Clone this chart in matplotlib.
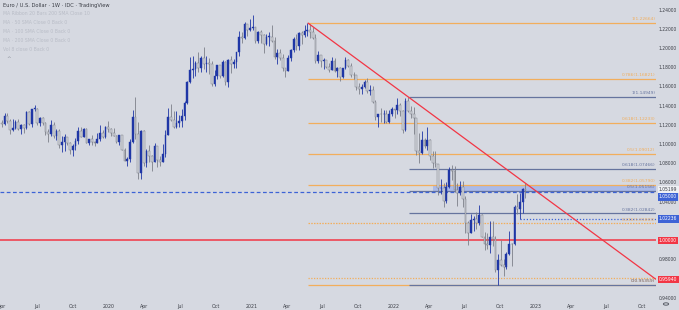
import matplotlib
matplotlib.use('Agg')
import matplotlib.pyplot as plt
import matplotlib.dates as mdates
from matplotlib.patches import Rectangle, Circle
import numpy as np
import pandas as pd

# ---------------- data (EUR/USD weekly) ----------------
start_week = '2019-04-01'
opens = [
    1.1218, 1.1216, 1.1297, 1.1246, 1.1150, 1.1170, 1.1233, 1.1157, 1.1205, 1.1169,
    1.1333, 1.1208, 1.1369, 1.1370, 1.1225, 1.1271, 1.1219, 1.1127, 1.1108, 1.1200,
    1.1091, 1.1143, 1.0990, 1.1028, 1.1073, 1.1016, 1.0940, 1.0980, 1.1040, 1.1143,
    1.1080, 1.1165, 1.1018, 1.1052, 1.1020, 1.1017, 1.1058, 1.1120, 1.1078, 1.1177,
    1.1160, 1.1121, 1.1091, 1.1025, 1.1093, 1.0943, 1.0831, 1.0846, 1.1025, 1.1284,
    1.1106, 1.0698, 1.1140, 1.0805, 1.0935, 1.0875, 1.0820, 1.0980, 1.0838, 1.0818,
    1.0902, 1.1100, 1.1290, 1.1255, 1.1178, 1.1220, 1.1245, 1.1300, 1.1428, 1.1655,
    1.1778, 1.1787, 1.1843, 1.1795, 1.1900, 1.1838, 1.1845, 1.1838, 1.1632, 1.1715,
    1.1826, 1.1717, 1.1860, 1.1646, 1.1875, 1.1833, 1.1857, 1.1960, 1.2120, 1.2110,
    1.2255, 1.2187, 1.2215, 1.2220, 1.2080, 1.2170, 1.2136, 1.2045, 1.2118, 1.2120,
    1.2075, 1.1915, 1.1950, 1.1905, 1.1795, 1.1763, 1.1900, 1.1984, 1.2097, 1.2020,
    1.2165, 1.2140, 1.2180, 1.2190, 1.2168, 1.2105, 1.1865, 1.1935, 1.1865, 1.1875,
    1.1810, 1.1775, 1.1870, 1.1760, 1.1795, 1.1700, 1.1795, 1.1880, 1.1813, 1.1728,
    1.1720, 1.1595, 1.1573, 1.1600, 1.1645, 1.1558, 1.1568, 1.1445, 1.1290, 1.1318,
    1.1315, 1.1315, 1.1238, 1.1320, 1.1365, 1.1360, 1.1410, 1.1345, 1.1150, 1.1450,
    1.1350, 1.1320, 1.1270, 1.0930, 1.0910, 1.1050, 1.0985, 1.1045, 1.0875, 1.0810,
    1.0795, 1.0545, 1.0550, 1.0410, 1.0560, 1.0730, 1.0720, 1.0520, 1.0495, 1.0555,
    1.0430, 1.0185, 1.0080, 1.0210, 1.0220, 1.0180, 1.0260, 1.0040, 0.9965, 0.9955,
    1.0040, 1.0015, 0.9690, 0.9800, 0.9740, 0.9720, 0.9860, 0.9965, 0.9960, 1.0350,
    1.0325, 1.0400, 1.0535,
]
highs = [
    1.1255, 1.1324, 1.1324, 1.1268, 1.1265, 1.1251, 1.1265, 1.1215, 1.1215, 1.1348,
    1.1348, 1.1373, 1.1412, 1.1384, 1.1286, 1.1282, 1.1230, 1.1158, 1.1250, 1.1230,
    1.1160, 1.1165, 1.1085, 1.1110, 1.1075, 1.1025, 1.0999, 1.1063, 1.1179, 1.1180,
    1.1175, 1.1176, 1.1058, 1.1097, 1.1040, 1.1116, 1.1200, 1.1148, 1.1188, 1.1239,
    1.1172, 1.1173, 1.1100, 1.1096, 1.1095, 1.0964, 1.0866, 1.1053, 1.1356, 1.1495,
    1.1237, 1.1147, 1.1147, 1.0952, 1.0990, 1.0891, 1.1019, 1.0983, 1.0875, 1.1008,
    1.1147, 1.1384, 1.1423, 1.1348, 1.1349, 1.1302, 1.1372, 1.1452, 1.1660, 1.1908,
    1.1916, 1.1866, 1.1966, 1.1925, 1.2011, 1.1917, 1.1901, 1.1872, 1.1771, 1.1831,
    1.1830, 1.1881, 1.1870, 1.1891, 1.1920, 1.1893, 1.1964, 1.2177, 1.2167, 1.2273,
    1.2251, 1.2310, 1.2349, 1.2222, 1.2183, 1.2190, 1.2150, 1.2150, 1.2170, 1.2243,
    1.2114, 1.1990, 1.1989, 1.1945, 1.1800, 1.1927, 1.1994, 1.2117, 1.2150, 1.2172,
    1.2183, 1.2245, 1.2266, 1.2254, 1.2218, 1.2145, 1.1975, 1.1935, 1.1895, 1.1880,
    1.1850, 1.1909, 1.1900, 1.1805, 1.1806, 1.1801, 1.1909, 1.1885, 1.1849, 1.1750,
    1.1725, 1.1640, 1.1624, 1.1669, 1.1692, 1.1616, 1.1610, 1.1464, 1.1320, 1.1383,
    1.1355, 1.1362, 1.1360, 1.1386, 1.1370, 1.1483, 1.1436, 1.1355, 1.1483, 1.1495,
    1.1395, 1.1390, 1.1275, 1.1121, 1.1137, 1.1070, 1.1185, 1.1054, 1.0934, 1.0936,
    1.0800, 1.0641, 1.0595, 1.0607, 1.0765, 1.0787, 1.0774, 1.0601, 1.0615, 1.0615,
    1.0463, 1.0200, 1.0278, 1.0254, 1.0294, 1.0368, 1.0275, 1.0090, 1.0079, 1.0198,
    1.0197, 1.0051, 0.9854, 0.9999, 0.9809, 0.9875, 1.0094, 0.9976, 1.0364, 1.0481,
    1.0497, 1.0545, 1.0595,
]
lows = [
    1.1183, 1.1205, 1.1226, 1.1111, 1.1135, 1.1160, 1.1152, 1.1107, 1.1116, 1.1160,
    1.1202, 1.1181, 1.1346, 1.1207, 1.1193, 1.1201, 1.1101, 1.1027, 1.1091, 1.1066,
    1.1051, 1.0965, 1.0926, 1.0927, 1.0990, 1.0905, 1.0879, 1.0942, 1.1002, 1.1073,
    1.1072, 1.1015, 1.0989, 1.0990, 1.0981, 1.1015, 1.1039, 1.1065, 1.1068, 1.1125,
    1.1085, 1.1086, 1.1019, 1.0992, 1.0940, 1.0827, 1.0778, 1.0812, 1.1010, 1.1055,
    1.0636, 1.0637, 1.0779, 1.0769, 1.0814, 1.0727, 1.0813, 1.0767, 1.0775, 1.0815,
    1.0870, 1.1095, 1.1240, 1.1168, 1.1168, 1.1186, 1.1186, 1.1253, 1.1424, 1.1637,
    1.1696, 1.1711, 1.1753, 1.1757, 1.1782, 1.1753, 1.1737, 1.1612, 1.1612, 1.1685,
    1.1689, 1.1701, 1.1622, 1.1603, 1.1746, 1.1801, 1.1800, 1.1925, 1.2059, 1.2100,
    1.2130, 1.2178, 1.2192, 1.2054, 1.2055, 1.2058, 1.1952, 1.2037, 1.2023, 1.2062,
    1.1894, 1.1835, 1.1874, 1.1762, 1.1704, 1.1760, 1.1870, 1.1960, 1.1986, 1.1986,
    1.2051, 1.2118, 1.2133, 1.2106, 1.2093, 1.1847, 1.1848, 1.1807, 1.1781, 1.1795,
    1.1751, 1.1770, 1.1752, 1.1705, 1.1664, 1.1695, 1.1790, 1.1802, 1.1700, 1.1684,
    1.1563, 1.1529, 1.1523, 1.1588, 1.1535, 1.1513, 1.1432, 1.1250, 1.1186, 1.1234,
    1.1226, 1.1222, 1.1222, 1.1300, 1.1272, 1.1315, 1.1300, 1.1121, 1.1140, 1.1340,
    1.1280, 1.1106, 1.0885, 1.0806, 1.0900, 1.0961, 1.0945, 1.0837, 1.0757, 1.0760,
    1.0471, 1.0483, 1.0350, 1.0389, 1.0550, 1.0627, 1.0507, 1.0359, 1.0469, 1.0350,
    1.0072, 0.9952, 1.0080, 1.0097, 1.0123, 1.0158, 1.0033, 0.9901, 0.9910, 0.9864,
    0.9945, 0.9668, 0.9536, 0.9735, 0.9632, 0.9705, 0.9851, 0.9730, 0.9950, 1.0272,
    1.0223, 1.0290, 1.0443,
]
closes = [
    1.1216, 1.1297, 1.1246, 1.1150, 1.1170, 1.1233, 1.1157, 1.1205, 1.1169, 1.1333,
    1.1208, 1.1369, 1.1370, 1.1225, 1.1271, 1.1219, 1.1127, 1.1108, 1.1200, 1.1091,
    1.1143, 1.0990, 1.1028, 1.1073, 1.1016, 1.0940, 1.0980, 1.1040, 1.1143, 1.1080,
    1.1165, 1.1018, 1.1052, 1.1020, 1.1017, 1.1058, 1.1120, 1.1078, 1.1177, 1.1160,
    1.1121, 1.1091, 1.1025, 1.1093, 1.0943, 1.0831, 1.0846, 1.1025, 1.1284, 1.1106,
    1.0698, 1.1140, 1.0805, 1.0935, 1.0875, 1.0820, 1.0980, 1.0838, 1.0818, 1.0902,
    1.1100, 1.1290, 1.1255, 1.1178, 1.1220, 1.1245, 1.1300, 1.1428, 1.1655, 1.1778,
    1.1787, 1.1843, 1.1795, 1.1900, 1.1838, 1.1845, 1.1838, 1.1632, 1.1715, 1.1826,
    1.1717, 1.1860, 1.1646, 1.1875, 1.1833, 1.1857, 1.1960, 1.2120, 1.2110, 1.2255,
    1.2187, 1.2215, 1.2220, 1.2080, 1.2170, 1.2136, 1.2045, 1.2118, 1.2120, 1.2075,
    1.1915, 1.1950, 1.1905, 1.1795, 1.1763, 1.1900, 1.1984, 1.2097, 1.2020, 1.2165,
    1.2140, 1.2180, 1.2190, 1.2168, 1.2105, 1.1865, 1.1935, 1.1865, 1.1875, 1.1810,
    1.1775, 1.1870, 1.1760, 1.1795, 1.1700, 1.1795, 1.1880, 1.1813, 1.1728, 1.1720,
    1.1595, 1.1573, 1.1600, 1.1645, 1.1558, 1.1568, 1.1445, 1.1290, 1.1318, 1.1315,
    1.1315, 1.1238, 1.1320, 1.1370, 1.1360, 1.1410, 1.1345, 1.1150, 1.1450, 1.1350,
    1.1320, 1.1270, 1.0930, 1.0910, 1.1050, 1.0985, 1.1045, 1.0875, 1.0810, 1.0795,
    1.0545, 1.0550, 1.0410, 1.0560, 1.0730, 1.0720, 1.0520, 1.0495, 1.0555, 1.0430,
    1.0185, 1.0080, 1.0210, 1.0220, 1.0180, 1.0260, 1.0040, 0.9965, 0.9955, 1.0040,
    1.0015, 0.9690, 0.9800, 0.9740, 0.9720, 0.9860, 0.9965, 0.9960, 1.0350, 1.0325,
    1.0400, 1.0535, 1.0520,
]

# Fibonacci retracements (level, price)
fib_orange_start = '2021-05-25'
fib_orange_levels = ['1', '0.786', '0.618', '0.5', '0.382', '0.236', '0']
fib_orange_prices = [1.22664, 1.16821, 1.12233, 1.09012, 1.05790, 1.01803, 0.95359]
fib_blue_start = '2022-02-10'
fib_blue_levels = ['1', '0.618', '0.5', '0.382', '0']
fib_blue_prices = [1.14949, 1.07466, 1.05156, 1.02842, 0.95359]

# trendline anchors (date, price)
trend_dates = ['2021-05-25', '2023-11-05']
trend_prices = [1.2266, 0.9594]

support_level = 1.0000
dashed_level = 1.0500
dotted_orange_level = 0.9605
ray_start = '2022-11-21'
ray_level = 1.02236
zone_start = '2022-04-11'
zone_top, zone_bottom = 1.05790, 1.05156
last_price = 1.05199

y_ticks = [1.24, 1.22, 1.20, 1.18, 1.16, 1.14, 1.12, 1.10, 1.08, 1.06, 1.04, 0.98, 0.94]
x_tick_dates = ['2019-04-01', '2019-07-01', '2019-10-01', '2020-01-01', '2020-04-01', '2020-07-01',
                '2020-10-01', '2021-01-01', '2021-04-01', '2021-07-01', '2021-10-01', '2022-01-01',
                '2022-04-01', '2022-07-01', '2022-10-01', '2023-01-01', '2023-04-01', '2023-07-01',
                '2023-10-01']
x_tick_labels = ['Apr', 'Jul', 'Oct', '2020', 'Apr', 'Jul', 'Oct', '2021', 'Apr', 'Jul', 'Oct',
                 '2022', 'Apr', 'Jul', 'Oct', '2023', 'Apr', 'Jul', 'Oct']

title = 'Euro / U.S. Dollar · 1W · IDC · TradingView'
legend_lines = ['MA Ribbon 20 Bars 200 SMA Close 10', 'MA · 50 SMA Close 0 Back 0',
                'MA · 100 SMA Close 0 Back 0', 'MA · 200 SMA Close 0 Back 0',
                'Vol 8 close 0 Back 0']

# ---------------- style ----------------
BG = '#d6d9e1'
UP = '#1f36a6'
DN_FILL = '#d3d6dd'
DN_EDGE = '#7d8089'
ORANGE = '#f2ae5c'
FIBBLUE = '#66749e'
RED = '#f23645'
BLUE = '#3d63d6'
TXT = '#3a3d45'
plt.rcParams['font.family'] = ['DejaVu Sans']
AX_FS = 3.25

W, H = 679, 310
fig = plt.figure(figsize=(W / 100, H / 100), dpi=100)
fig.patch.set_facecolor(BG)
ax_right_px = 656
ax_bottom_px = 299
ax = fig.add_axes([0, (H - ax_bottom_px) / H, ax_right_px / W, ax_bottom_px / H])
ax.set_facecolor(BG)
for s in ax.spines.values():
    s.set_visible(False)

# scales: pixel mapping derived from axis labels
px_per_day = 427 / 1096.0
x_ref = mdates.date2num(pd.Timestamp('2020-01-01'))
xmin = x_ref - 109 / px_per_day
xmax = x_ref + (ax_right_px - 109) / px_per_day
px_per_unit = 960.0
ymax = 1.24 + 10 / px_per_unit
ymin = 1.24 - (ax_bottom_px - 10) / px_per_unit
ax.set_xlim(xmin, xmax)
ax.set_ylim(ymin, ymax)

dates = pd.date_range(start_week, periods=len(opens), freq='7D')
xd = mdates.date2num(dates)
o = np.array(opens); h = np.array(highs); l = np.array(lows); c = np.array(closes)
up = c >= o
lo_w = np.minimum(l, np.minimum(o, c))
hi_w = np.maximum(h, np.maximum(o, c))

# drawings behind candles
x_or = mdates.date2num(pd.Timestamp(fib_orange_start))
x_bl = mdates.date2num(pd.Timestamp(fib_blue_start))
x_zone = mdates.date2num(pd.Timestamp(zone_start))
x_ray = mdates.date2num(pd.Timestamp(ray_start))

ax.add_patch(Rectangle((x_zone, zone_bottom), xmax - x_zone, zone_top - zone_bottom,
                       facecolor='#9fb3ec', alpha=0.8, edgecolor='none', zorder=1))

for lev, p in zip(fib_orange_levels, fib_orange_prices):
    ls = (0, (1.2, 1.0)) if lev == '0.236' else '-'
    ax.hlines(p, x_or, xmax, colors=ORANGE, lw=0.9, linestyles=ls, zorder=2)
    ax.text(xmax - 0.8 / px_per_day, p + 1.5 / px_per_unit, f'{lev}({p:.5f})', color=ORANGE,
            fontsize=3.2, ha='right', va='bottom', zorder=3)
for lev, p in zip(fib_blue_levels, fib_blue_prices):
    ax.hlines(p, x_bl, xmax, colors=FIBBLUE, lw=0.9, zorder=2)
    ax.text(xmax - 0.8 / px_per_day, p + 1.5 / px_per_unit, f'{lev}({p:.5f})', color=FIBBLUE,
            fontsize=3.2, ha='right', va='bottom', zorder=3)

ax.hlines(dotted_orange_level, x_or, xmax, colors=ORANGE, lw=0.9, linestyles=(0, (1, 1.2)), zorder=2)
ax.axhline(dashed_level, color=BLUE, lw=0.9, ls=(0, (3, 2)), zorder=2)
ax.hlines(ray_level, x_ray, xmax, colors=BLUE, lw=0.9, linestyles=(0, (1, 1.5)), zorder=2)
ax.axhline(support_level, color=RED, lw=1.1, zorder=2)

# candles
body_w = 4.6
ax.vlines(xd[up], lo_w[up], hi_w[up], colors=UP, lw=0.6, zorder=4)
ax.vlines(xd[~up], lo_w[~up], hi_w[~up], colors=DN_EDGE, lw=0.6, zorder=4)
bh = np.maximum(np.abs(c - o), 0.0006)
ax.bar(xd[up], bh[up], bottom=np.minimum(o, c)[up], width=body_w, color=UP,
       edgecolor=UP, linewidth=0.3, zorder=5)
ax.bar(xd[~up], bh[~up], bottom=np.minimum(o, c)[~up], width=body_w, color=DN_FILL,
       edgecolor=DN_EDGE, linewidth=0.35, zorder=5)

# trendline, extended to the right edge
td = mdates.date2num(pd.to_datetime(trend_dates))
ax.plot(td, trend_prices, color=RED, lw=0.9, zorder=6, solid_capstyle='butt')

# ticks (drawn as text)
ax.set_xticks([])
ax.set_yticks([])
for d, lab in zip(x_tick_dates, x_tick_labels):
    xx = mdates.date2num(pd.Timestamp(d))
    ax.text(xx, ymin - 7 / px_per_unit, lab, fontsize=AX_FS + 0.2, color=TXT, ha='center',
            va='center', clip_on=False)

ytr = ax.get_yaxis_transform()
for t in y_ticks:
    ax.text(1.0 + 3 / ax_right_px, t, f'{t:.5f}', transform=ytr, fontsize=AX_FS, color=TXT,
            ha='left', va='center', clip_on=False)


def price_box(p, text, fc, tc='white', dy=0):
    ax.text(1.0 + 3 / ax_right_px, p + dy / px_per_unit, text, transform=ytr, fontsize=AX_FS,
            color=tc, ha='left', va='center', clip_on=False, zorder=10,
            bbox=dict(boxstyle='square,pad=0.3', fc=fc, ec='none'))


price_box(last_price, f'{last_price:.5f}', '#eef0f4', tc=TXT, dy=1)
price_box(dashed_level, f'{dashed_level:.5f}', BLUE, dy=-4.5)
price_box(ray_level, f'{ray_level:.5f}', BLUE)
price_box(support_level, f'{support_level:.5f}', RED)
price_box(trend_prices[1], f'{trend_prices[1]:.5f}', RED)

# header texts
fig.text(3 / W, 1 - 5.5 / H, title, fontsize=3.7, color=TXT, ha='left', va='center')
for i, line in enumerate(legend_lines):
    yy = 1 - (13.5 + 9 * i) / H
    fig.text(3 / W, yy, line, fontsize=3.3, color='#b9bdc7', ha='left', va='center')
fig.text(6 / W, 1 - 59 / H, '^', fontsize=4, color='#8a8e98', ha='left', va='center')

# gear icon
fig.patches.append(Circle((666 / W, 1 - 304 / H), 2.6 / W, transform=fig.transFigure,
                          fill=False, ec='#5a5e68', lw=0.7))

fig.savefig('out.png', dpi=100, facecolor=BG)
